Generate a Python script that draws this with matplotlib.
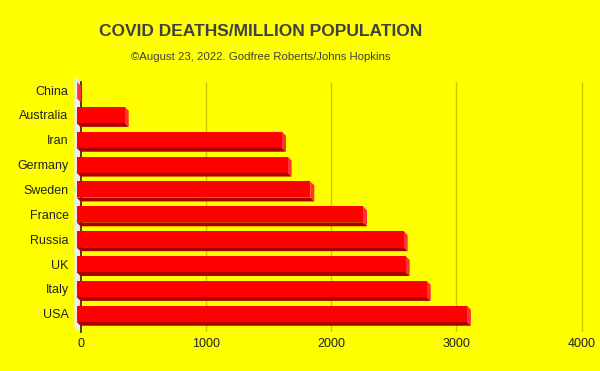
import matplotlib
matplotlib.use('Agg')
import matplotlib.pyplot as plt
from matplotlib.patches import Polygon

plt.rcParams['font.family'] = ['Liberation Sans', 'DejaVu Sans']

# Data
countries = ['China', 'Australia', 'Iran', 'Germany', 'Sweden',
             'France', 'Russia', 'UK', 'Italy', 'USA']
deaths_per_million = [5, 385, 1640, 1685, 1866, 2287, 2611, 2627, 2795, 3116]
x_ticks = [0, 1000, 2000, 3000, 4000]

W, H = 600, 371
fig = plt.figure(figsize=(6, 3.71), dpi=100)
fig.patch.set_facecolor('#ffff00')

# axes placed in pixel terms
left_px, right_px = 70, 590
top_px, bottom_px = 82, 332
ax = fig.add_axes([left_px / W, 1 - bottom_px / H,
                   (right_px - left_px) / W, (bottom_px - top_px) / H])
ax.set_facecolor('#ffff00')

sx = 0.1253          # pixels per data unit (x)
zero_px = 80.5
row_px = 24.86       # pixels per category row
first_row_px = 90
ax.set_xlim((left_px - zero_px) / sx, (right_px - zero_px) / sx)
ax.set_ylim((bottom_px - first_row_px) / row_px, (top_px - first_row_px) / row_px)

for s in ax.spines.values():
    s.set_visible(False)

# gridlines
for t in x_ticks[1:]:
    ax.axvline(t, color='#c8c800', lw=1, zorder=1)

# 3D depth
dx = 4 / sx
dy = 4 / row_px
h = 16 / row_px

# side wall
wall_w = 6 / sx
y_top = (top_px - 5 - first_row_px) / row_px
y_bot = (bottom_px - first_row_px) / row_px
ax.add_patch(Polygon([(-wall_w, y_top), (0, y_top + 5 / row_px), (0, y_bot),
                      (-wall_w, y_bot - 5 / row_px)],
                     closed=True, fc='#eeeeee', ec='none', clip_on=False, zorder=1))
ax.plot([0, 0], [y_top + 5 / row_px, y_bot], color='#222222', lw=1.2, zorder=1,
        clip_on=False)

for i, v in enumerate(deaths_per_million):
    t, b = i - h / 2, i + h / 2
    # bottom face
    ax.add_patch(Polygon([(-dx, b), (v - dx, b), (v, b + dy), (0, b + dy)],
                         closed=True, fc='#aa0000', ec='none', clip_on=False, zorder=3))
    # right side face
    ax.add_patch(Polygon([(v - dx, t), (v, t + dy), (v, b + dy), (v - dx, b)],
                         closed=True, fc='#ff3333', ec='none', clip_on=False, zorder=3))
    # front face
    ax.add_patch(Polygon([(-dx, t), (v - dx, t), (v - dx, b), (-dx, b)],
                         closed=True, fc='#ff0000', ec='none', clip_on=False, zorder=4))

ax.set_xticks(x_ticks)
ax.set_xticklabels([str(t) for t in x_ticks])
ax.set_yticks(range(len(countries)))
ax.set_yticklabels(countries)
ax.tick_params(axis='x', length=0, pad=4.5, labelsize=9, labelcolor='#222222')
ax.tick_params(axis='y', length=0, pad=1, labelsize=9, labelcolor='#222222')

fig.text(261 / W, 1 - 31 / H, 'COVID DEATHS/MILLION POPULATION',
         ha='center', va='center', fontsize=12.5, fontweight='bold', color='#404040')
fig.text(261 / W, 1 - 57 / H, '\u00a9August 23, 2022. Godfree Roberts/Johns Hopkins',
         ha='center', va='center', fontsize=8.2, color='#404040')

fig.savefig('out.png', dpi=100, facecolor=fig.get_facecolor())
